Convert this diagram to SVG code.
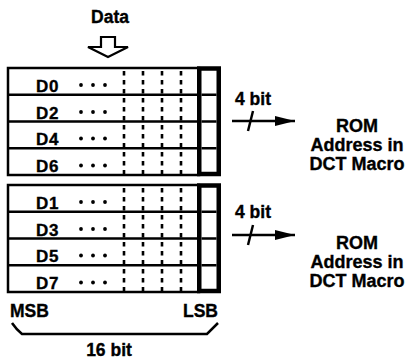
<svg xmlns="http://www.w3.org/2000/svg" width="406" height="360" viewBox="0 0 406 360">
<style>
text{font-family:"Liberation Sans",Arial,sans-serif;font-weight:bold;font-size:17.5px;fill:#000;stroke:#000;stroke-width:0.35}
.lbl{font-size:17px;letter-spacing:0.6px}
.big{font-size:18px}
.box{fill:#fff;stroke:#000;stroke-width:2.5}
.row{stroke:#000;stroke-width:2.5;fill:none}
.dash{stroke:#000;stroke-width:2.6;stroke-dasharray:4.5 4.5;fill:none}
.lsb{fill:#fff;stroke:#000;stroke-width:4.5}
.conn{stroke:#000;stroke-width:2.5;fill:none}
.mid{text-anchor:middle}
</style>
<defs>
<marker id="ah" markerWidth="22" markerHeight="12" refX="20" refY="6" orient="auto" markerUnits="userSpaceOnUse">
<path d="M0,1 L20,6 L0,11 Z" fill="#000"/>
</marker>
</defs>

<g id="data-input">
<text class="mid" x="110" y="23">Data</text>
<path d="M101,37 L115,37 L115,47 L128,47 L108,57 L88,47 L101,47 Z" fill="#fff" stroke="#000" stroke-width="2.2"/>
</g>

<g id="register-even">
<rect class="box" x="8" y="68" width="191" height="107"/>
<path class="row" d="M8,94.75 H199 M8,121.5 H199 M8,148.25 H199"/>
<path class="dash" d="M124,71 V174 M143,71 V174 M162,71 V174 M181,71 V174"/>
<rect class="lsb" x="199.25" y="68.5" width="19.5" height="105.5"/>
<path class="row" d="M201.5,94.75 H216.5 M201.5,121.5 H216.5 M201.5,148.25 H216.5"/>
<text class="lbl" x="36" y="91.5">D0</text>
<text class="lbl" x="36" y="118.5">D2</text>
<text class="lbl" x="36" y="145">D4</text>
<text class="lbl" x="36" y="172">D6</text>
<g fill="#000">
<circle cx="81" cy="85" r="1.9"/><circle cx="93" cy="85" r="1.9"/><circle cx="105" cy="85" r="1.9"/>
<circle cx="81" cy="112" r="1.9"/><circle cx="93" cy="112" r="1.9"/><circle cx="105" cy="112" r="1.9"/>
<circle cx="81" cy="138.5" r="1.9"/><circle cx="93" cy="138.5" r="1.9"/><circle cx="105" cy="138.5" r="1.9"/>
<circle cx="81" cy="165.5" r="1.9"/><circle cx="93" cy="165.5" r="1.9"/><circle cx="105" cy="165.5" r="1.9"/>
</g>
</g>

<g id="register-odd">
<rect class="box" x="8" y="185" width="191" height="107"/>
<path class="row" d="M8,211.75 H199 M8,238.5 H199 M8,265.25 H199"/>
<path class="dash" d="M124,188 V291 M143,188 V291 M162,188 V291 M181,188 V291"/>
<rect class="lsb" x="199.25" y="185.5" width="19.5" height="105.5"/>
<path class="row" d="M201.5,211.75 H216.5 M201.5,238.5 H216.5 M201.5,265.25 H216.5"/>
<text class="lbl" x="36" y="208.5">D1</text>
<text class="lbl" x="36" y="235.5">D3</text>
<text class="lbl" x="36" y="262">D5</text>
<text class="lbl" x="36" y="289">D7</text>
<g fill="#000">
<circle cx="81" cy="202" r="1.9"/><circle cx="93" cy="202" r="1.9"/><circle cx="105" cy="202" r="1.9"/>
<circle cx="81" cy="229" r="1.9"/><circle cx="93" cy="229" r="1.9"/><circle cx="105" cy="229" r="1.9"/>
<circle cx="81" cy="255.5" r="1.9"/><circle cx="93" cy="255.5" r="1.9"/><circle cx="105" cy="255.5" r="1.9"/>
<circle cx="81" cy="282.5" r="1.9"/><circle cx="93" cy="282.5" r="1.9"/><circle cx="105" cy="282.5" r="1.9"/>
</g>
</g>

<g id="rom-address-1">
<text class="mid big" x="357" y="132">ROM</text>
<text class="mid big" x="357" y="151">Address in</text>
<text class="mid big" x="357" y="170">DCT Macro</text>
</g>
<g id="rom-address-2">
<text class="mid big" x="357" y="249">ROM</text>
<text class="mid big" x="357" y="268">Address in</text>
<text class="mid big" x="357" y="287">DCT Macro</text>
</g>

<g id="width-scale">
<text x="10" y="317">MSB</text>
<text x="218" y="317" text-anchor="end">LSB</text>
<path d="M12,323 Q16,329 22,334 L207,334 Q212,329 218,323" fill="none" stroke="#000" stroke-width="2.5"/>
<text class="mid" x="109" y="356">16 bit</text>
</g>

<g id="connectors">
<line class="conn" x1="232" y1="121" x2="295" y2="121" marker-end="url(#ah)"/>
<line class="conn" x1="253" y1="111" x2="248" y2="131"/>
<text x="235" y="105">4 bit</text>
<line class="conn" x1="232" y1="235" x2="295" y2="235" marker-end="url(#ah)"/>
<line class="conn" x1="253" y1="225" x2="248" y2="245"/>
<text x="235" y="218">4 bit</text>
</g>
</svg>
